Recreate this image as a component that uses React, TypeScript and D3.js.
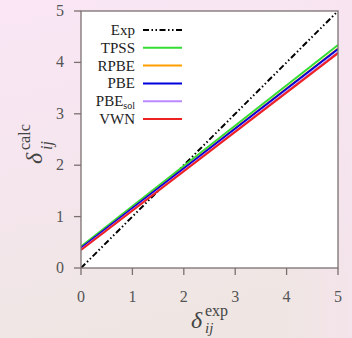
import React from "react";
import * as d3 from "d3";

const methods = ["Exp", "TPSS", "RPBE", "PBE", "PBEsol", "VWN"];
const colors = ["#000000", "#33dd33", "#ffa000", "#0000dd", "#bb88ff", "#ee2222"];
const xEnds = [0, 5];
const yStart = [0, 0.42, 0.39, 0.39, 0.36, 0.35];
const yEnd = [5, 4.34, 4.27, 4.26, 4.2, 4.18];
const xTicks = [0, 1, 2, 3, 4, 5];
const yTicks = [0, 1, 2, 3, 4, 5];

export default function App() {
  const W = 352, H = 338;
  const x = d3.scaleLinear().domain([0, 5]).range([81, 338]);
  const y = d3.scaleLinear().domain([0, 5]).range([268, 11]);
  const line = d3.line<[number, number]>().x(d => x(d[0])).y(d => y(d[1]));
  const axisColor = "#7a7070";
  const font = "Liberation Serif, DejaVu Serif, serif";
  const legX = 135, legY0 = 30, legDY = 17.8;
  return (
    <svg width={W} height={H} style={{ position: "absolute", left: 0, top: 0, fontFamily: font }}>
      <defs>
        <linearGradient id="bg" x1="0" y1="0" x2="0.25" y2="1">
          <stop offset="0" stopColor="#fae6f5" />
          <stop offset="0.5" stopColor="#f5e6ee" />
          <stop offset="1" stopColor="#efe6e3" />
        </linearGradient>
        <linearGradient id="bg2" x1="0" y1="0" x2="1" y2="0">
          <stop offset="0.8" stopColor="#f7e2f0" stopOpacity="0" />
          <stop offset="1" stopColor="#f7e2f0" stopOpacity="0.6" />
        </linearGradient>
        <clipPath id="plot">
          <rect x={x(0)} y={y(5)} width={x(5) - x(0)} height={y(0) - y(5)} />
        </clipPath>
      </defs>
      <rect width={W} height={H} fill="url(#bg)" />
      <rect width={W} height={H} fill="url(#bg2)" />
      <rect x={x(0)} y={y(5)} width={x(5) - x(0)} height={y(0) - y(5)} fill="#ffffff" />
      <g clipPath="url(#plot)">
        {methods.map((m, i) => (
          <path
            key={m}
            d={line([[xEnds[0], yStart[i]], [xEnds[1], yEnd[i]]]) || ""}
            stroke={colors[i]}
            strokeWidth={2}
            fill="none"
            strokeDasharray={i === 0 ? "6,2.5,1.5,2.5,1.5,2.5" : undefined}
          />
        ))}
      </g>
      <rect x={x(0)} y={y(5)} width={x(5) - x(0)} height={y(0) - y(5)} fill="none" stroke={axisColor} strokeWidth={1.3} />
      {xTicks.map(t => (
        <g key={"x" + t}>
          <line x1={x(t)} x2={x(t)} y1={y(0)} y2={y(0) + 7} stroke={axisColor} strokeWidth={1.3} />
          <text x={x(t)} y={y(0) + 34} textAnchor="middle" fontSize={16} fill="#555">{t}</text>
        </g>
      ))}
      {yTicks.map(t => (
        <g key={"y" + t}>
          <line x1={x(0) - 7} x2={x(0)} y1={y(t)} y2={y(t)} stroke={axisColor} strokeWidth={1.3} />
          <text x={x(0) - 17} y={y(t) + 5} textAnchor="end" fontSize={16} fill="#555">{t}</text>
        </g>
      ))}
      {methods.map((m, i) => (
        <g key={"leg" + m}>
          <text x={legX} y={legY0 + i * legDY + 5} textAnchor="end" fontSize={15} fill="#222">
            {m === "PBEsol" ? (
              <>PBE<tspan fontSize={10} dy={3}>sol</tspan></>
            ) : m}
          </text>
          <line
            x1={143} x2={182}
            y1={legY0 + i * legDY} y2={legY0 + i * legDY}
            stroke={colors[i]} strokeWidth={2}
            strokeDasharray={i === 0 ? "6,2.5,1.5,2.5,1.5,2.5" : undefined}
          />
        </g>
      ))}
      <text x={191} y={328} fontSize={24} fill="#444" fontStyle="italic">δ</text>
      <text x={205} y={316} fontSize={16} fill="#444">exp</text>
      <text x={205} y={333} fontSize={15} fill="#444" fontStyle="italic">ij</text>
      <g transform="translate(42,164) rotate(-90)">
        <text x={0} y={0} fontSize={24} fill="#444" fontStyle="italic">δ</text>
        <text x={14} y={-12} fontSize={16} fill="#444">calc</text>
        <text x={14} y={10} fontSize={16} fill="#444" fontStyle="italic">ij</text>
      </g>
    </svg>
  );
}
